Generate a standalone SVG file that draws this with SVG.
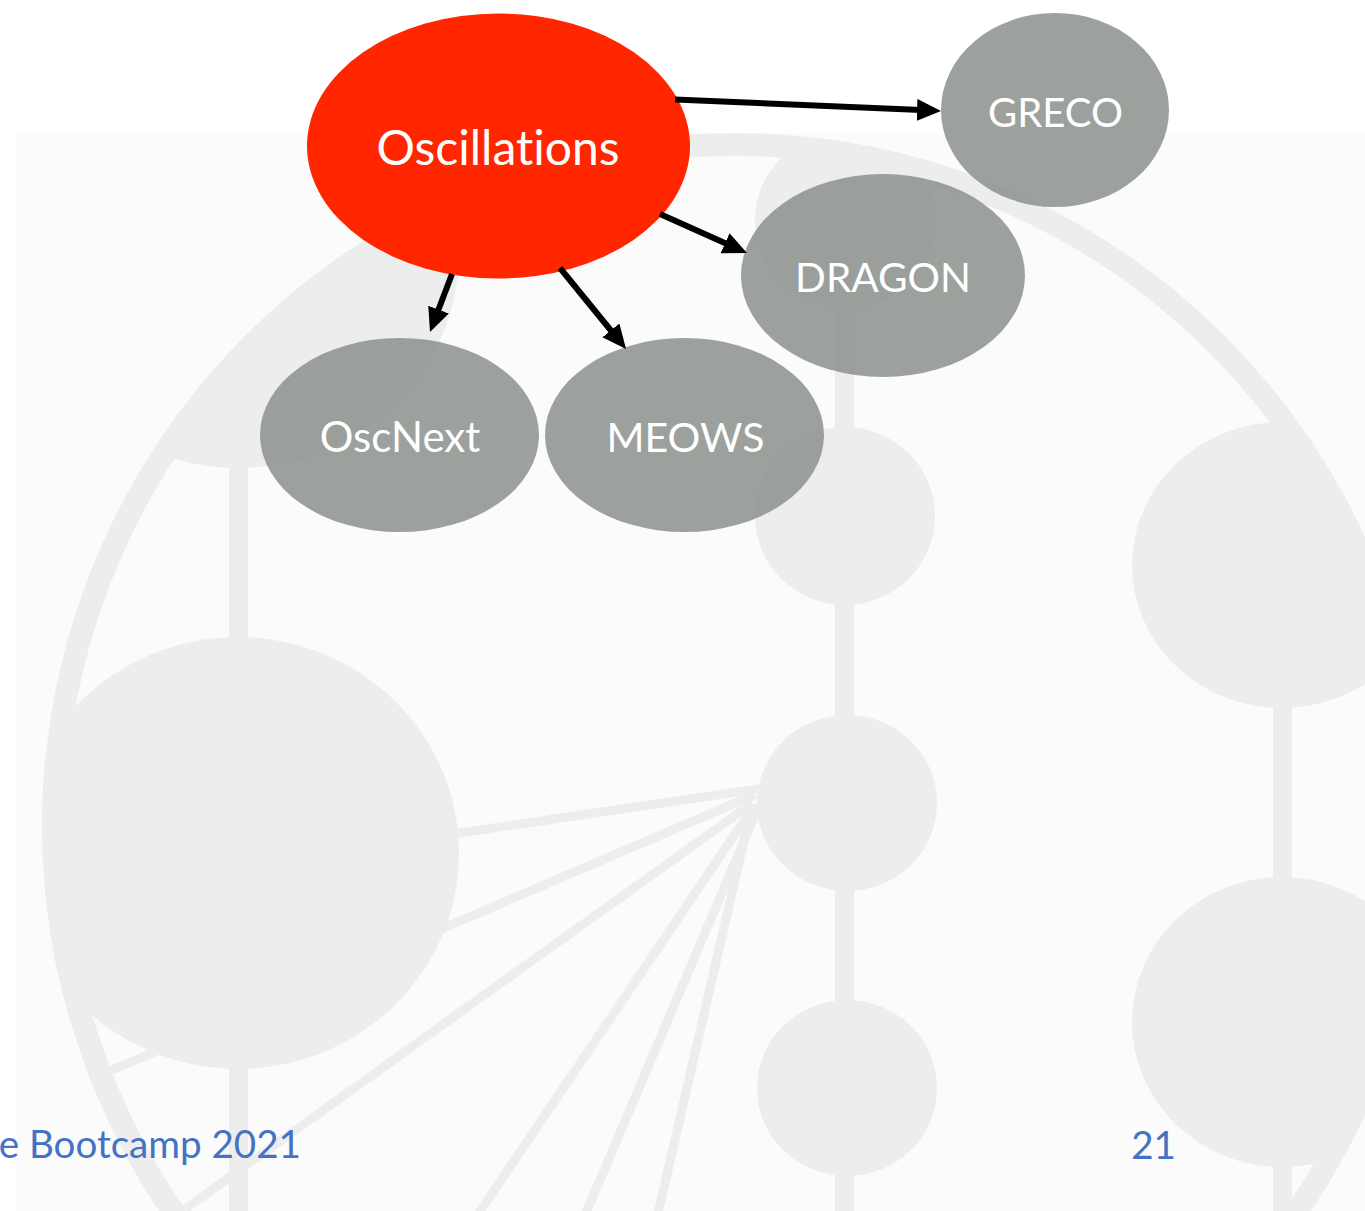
<svg xmlns="http://www.w3.org/2000/svg" width="1365" height="1211" viewBox="0 0 1365 1211">
  <style>
    .wm { fill: #ededed; }
    .wml { stroke: #ededed; fill: none; }
    .node-red { fill: #ff2600; }
    .node-gray { fill: #8b908d; fill-opacity: 0.85; }
    .label { fill: #ffffff; font-family: Lato, "Liberation Sans", sans-serif; text-anchor: middle; font-variant-ligatures: none; font-feature-settings: "liga" 0, "clig" 0; }
    .edge { stroke: #000000; stroke-width: 6; fill: none; marker-end: url(#arrow); }
    .footer { fill: #4472c4; font-family: Lato, "Liberation Sans", sans-serif; font-size: 38.6px; font-variant-ligatures: none; }
  </style>
  <defs>
    <clipPath id="wmRect"><rect x="15" y="133" width="1350" height="1078"/></clipPath>
    <clipPath id="wmCircle"><circle cx="735" cy="826" r="693"/></clipPath>
    <marker id="arrow" viewBox="0 0 24 22" markerWidth="24" markerHeight="22" markerUnits="userSpaceOnUse" refX="4" refY="11" orient="auto">
      <path d="M0,0 L24,11 L0,22 z" fill="#000000"/>
    </marker>
  </defs>

  <rect x="0" y="0" width="1365" height="1211" fill="#ffffff"/>

  <g id="watermark" clip-path="url(#wmRect)">
    <rect x="15" y="133" width="1350" height="1078" fill="#fbfbfb"/>
    <g clip-path="url(#wmCircle)">
      <circle class="wml" cx="735" cy="826" r="681.5" stroke-width="23"/>
      <g class="wml" stroke-width="9">
        <line x1="765" y1="787.8" x2="0" y2="901"/>
        <line x1="755" y1="794.6" x2="0" y2="1118"/>
        <line x1="752" y1="803.4" x2="58" y2="1300"/>
        <line x1="754" y1="806" x2="420" y2="1300"/>
        <line x1="759" y1="805.6" x2="549" y2="1300"/>
        <line x1="752.5" y1="804" x2="638" y2="1300"/>
      </g>
      <g class="wml" stroke-width="19">
        <line x1="238.5" y1="100" x2="238.5" y2="1300"/>
        <line x1="844.5" y1="100" x2="844.5" y2="1300"/>
        <line x1="1282.5" y1="100" x2="1282.5" y2="1300"/>
      </g>
      <ellipse class="wm" cx="238" cy="252" rx="221" ry="216"/>
      <ellipse class="wm" cx="238" cy="853" rx="221" ry="216"/>
      <ellipse class="wm" cx="845" cy="220" rx="90" ry="88"/>
      <ellipse class="wm" cx="845" cy="516" rx="90" ry="89"/>
      <ellipse class="wm" cx="847" cy="803" rx="90" ry="88"/>
      <ellipse class="wm" cx="847" cy="1088" rx="90" ry="88"/>
      <ellipse class="wm" cx="1282" cy="565" rx="150" ry="143"/>
      <ellipse class="wm" cx="1282" cy="1022" rx="150" ry="145"/>
    </g>
  </g>

  <g id="node-oscillations">
    <ellipse class="node-red" cx="498.5" cy="146" rx="191.5" ry="132.5"/>
    <text class="label" x="498" y="164.5" font-size="48">Oscillations</text>
  </g>
  <g id="node-greco">
    <ellipse class="node-gray" cx="1055" cy="110" rx="114" ry="97"/>
    <text class="label" x="1055.5" y="127.4" font-size="40">GRECO</text>
  </g>
  <g id="node-dragon">
    <ellipse class="node-gray" cx="883" cy="275.5" rx="142" ry="101.5"/>
    <text class="label" x="883" y="291.6" font-size="40.5">DRAGON</text>
  </g>
  <g id="node-oscnext">
    <ellipse class="node-gray" cx="399.5" cy="435" rx="139.5" ry="97"/>
    <text class="label" x="400" y="451.6" font-size="42">OscNext</text>
  </g>
  <g id="node-meows">
    <ellipse class="node-gray" cx="684.5" cy="435" rx="139.5" ry="97"/>
    <text class="label" x="685.5" y="451.6" font-size="41">MEOWS</text>
  </g>

  <g id="connectors">
    <line class="edge" x1="675" y1="99.5" x2="921" y2="110.1"/>
    <line class="edge" x1="660" y1="214" x2="728.7" y2="244.8"/>
    <line class="edge" x1="452" y1="274" x2="437.1" y2="313.3"/>
    <line class="edge" x1="560" y1="268" x2="613.4" y2="333.5"/>
  </g>

  <g id="footer">
    <text class="footer" x="301" y="1158" text-anchor="end">e Bootcamp 2021</text>
    <text class="footer" x="1176" y="1159" text-anchor="end">21</text>
  </g>
</svg>
